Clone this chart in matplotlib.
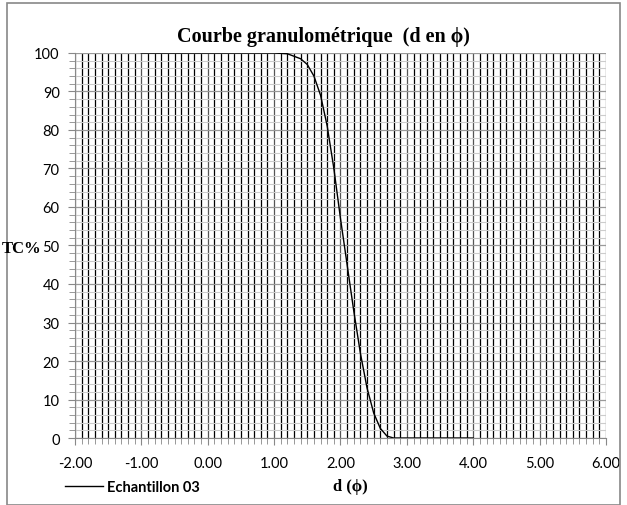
import numpy as np
import matplotlib.pyplot as plt
from matplotlib.patches import Rectangle

# courbe granulométrique
d_phi = [-1.0, 0.0, 1.0, 1.2, 1.4, 1.5, 1.6, 1.7, 1.8, 1.9, 2.0, 2.1, 2.2,
         2.3, 2.4, 2.5, 2.6, 2.7, 2.8, 3.0, 4.0]
tc = [100, 100, 100, 99.8, 98.5, 97, 94, 89, 81, 70, 57, 45, 33,
      22, 13, 6.5, 2.5, 0.5, 0, 0, 0]
x_ticks = [-2, -1, 0, 1, 2, 3, 4, 5, 6]
y_ticks = [0, 10, 20, 30, 40, 50, 60, 70, 80, 90, 100]

fig = plt.figure(figsize=(6.27, 5.06), dpi=100)
ax = fig.add_axes([0.1196, 0.1324, 0.8469, 0.7609])

# cadre extérieur du graphique
fig.patches.append(Rectangle((0.011, 0.0), 0.978, 0.992, transform=fig.transFigure,
                             fill=False, edgecolor="#888888", lw=1.2))

ax.set_xlim(-2, 6)
ax.set_ylim(0, 100)
ax.set_xticks(x_ticks)
ax.set_xticklabels([f"{v:.2f}" for v in x_ticks])
ax.set_yticks(y_ticks)
ax.set_xticks(np.arange(-2, 6.01, 0.1), minor=True)
ax.set_yticks(np.arange(0, 100.1, 2), minor=True)

ax.grid(which="minor", axis="x", color="black", lw=0.9)
ax.grid(which="major", axis="x", color="#555555", lw=0.9)
ax.grid(which="minor", axis="y", color="#cccccc", lw=0.8)
ax.grid(which="major", axis="y", color="#999999", lw=0.9)
ax.set_axisbelow(True)

for s in ["top", "right"]:
    ax.spines[s].set_visible(False)
ax.spines["left"].set_color("#888888")
ax.spines["bottom"].set_color("#888888")

ax.tick_params(which="both", direction="out", colors="#888888", labelcolor="black")
ax.tick_params(which="major", length=5)
ax.tick_params(which="minor", length=4)
ax.tick_params(axis="x", labelsize=10.5, pad=8)
ax.tick_params(axis="y", labelsize=10.5, pad=6)
for lab in ax.get_xticklabels() + ax.get_yticklabels():
    lab.set_fontfamily("Lato")

line, = ax.plot(d_phi, tc, color="black", lw=1.0, label="Echantillon 03")

fig.text(0.516, 0.927, "Courbe granulométrique  (d en ϕ)", fontfamily="Liberation Serif",
         fontweight="bold", fontsize=14.5, ha="center", va="center")
fig.text(0.034, 0.508, "TC%", fontfamily="Liberation Serif", fontweight="bold",
         fontsize=12, ha="center", va="center")
fig.text(0.559, 0.037, "d (ϕ)", fontfamily="Liberation Serif", fontweight="bold",
         fontsize=12, ha="center", va="center")

leg = fig.legend(handles=[line], loc="center left", bbox_to_anchor=(0.083, 0.036),
                 frameon=False, handlelength=2.6, handletextpad=0.3,
                 prop={"family": "Lato", "weight": "bold", "size": 10.5})

fig.savefig("out.png", dpi=100)
